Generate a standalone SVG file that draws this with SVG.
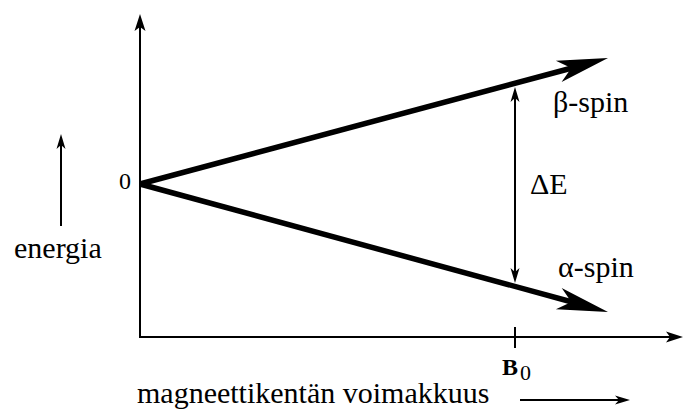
<svg xmlns="http://www.w3.org/2000/svg" width="685" height="412" viewBox="0 0 685 412">
<style>
.thin { stroke: #000; stroke-width: 2; fill: none; }
.thick { stroke: #000; stroke-width: 5.5; fill: none; }
.head { fill: #000; stroke: none; }
.lbl { font-family: "Liberation Serif", "Times New Roman", serif; font-size: 30px; fill: #000; }
</style>
<defs>
<marker id="ah" markerUnits="userSpaceOnUse" markerWidth="30" markerHeight="20" refX="-10" refY="0" orient="auto" overflow="visible">
<path class="head" d="M0,0 L-17,-5.5 L-13,0 L-17,5.5 Z"/>
</marker>
<marker id="ahs" markerUnits="userSpaceOnUse" markerWidth="30" markerHeight="20" refX="-9" refY="0" orient="auto" overflow="visible">
<path class="head" d="M0,0 L-15,-4.5 L-11,0 L-15,4.5 Z"/>
</marker>
</defs>
<rect width="685" height="412" fill="#fff"/>
<g id="axes">
<line class="thin" x1="140" y1="338" x2="140" y2="24" marker-end="url(#ah)"/>
<line class="thin" x1="139" y1="337" x2="673" y2="337" marker-end="url(#ah)"/>
<line class="thin" x1="515" y1="327" x2="515" y2="348"/>
</g>
<g id="connectors">
<line class="thin" x1="61" y1="226" x2="61" y2="143" marker-end="url(#ahs)"/>
<line class="thin" x1="520" y1="400" x2="621" y2="400" marker-end="url(#ahs)"/>
<line class="thin" x1="515" y1="190" x2="515" y2="96" marker-end="url(#ahs)"/>
<line class="thin" x1="515" y1="190" x2="515" y2="274" marker-end="url(#ahs)"/>
</g>
<g id="beta-line">
<line class="thick" x1="140" y1="184" x2="572" y2="68"/>
<path class="head" transform="translate(608,58) rotate(-15.07)" d="M0,0 L-51,-11 L-38,0 L-51,11 Z"/>
</g>
<g id="alpha-line">
<line class="thick" x1="140" y1="184" x2="572" y2="302"/>
<path class="head" transform="translate(608,312) rotate(15.3)" d="M0,0 L-51,-11 L-38,0 L-51,11 Z"/>
</g>
<g id="labels">
<text class="lbl" x="119" y="189" style="font-size:24px">0</text>
<text class="lbl" x="14" y="258">energia</text>
<text class="lbl" x="553" y="112">β-spin</text>
<text class="lbl" x="558" y="277">α-spin</text>
<text class="lbl" x="530" y="194">ΔE</text>
<text class="lbl" x="502" y="375" style="font-size:24px;font-weight:bold">B</text>
<text class="lbl" x="520" y="380" style="font-size:22px">0</text>
<text class="lbl" x="137" y="403">magneettikentän voimakkuus</text>
</g>
</svg>
